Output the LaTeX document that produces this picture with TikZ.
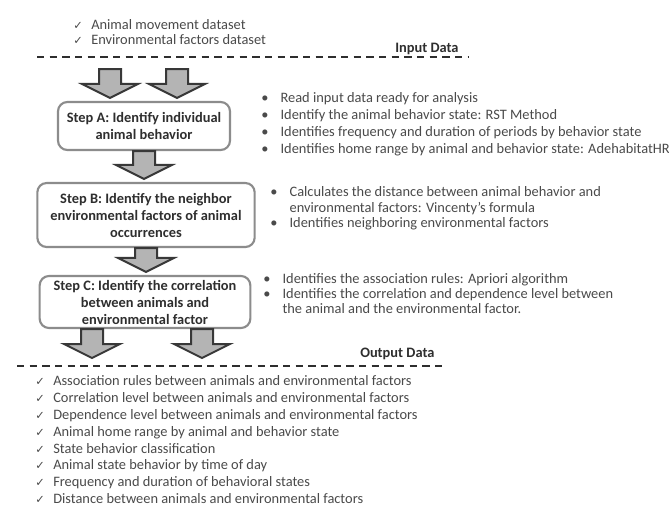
\documentclass[tikz,border=0pt]{standalone}
\usepackage{fontspec}
\setmainfont{Carlito}
\newfontfamily\symfont{DejaVu Sans}
\usepackage{tikz}
\usetikzlibrary{calc, positioning, backgrounds}

\definecolor{txtgray}{HTML}{4A4A4A}
\definecolor{headgray}{HTML}{2E2E2E}
\definecolor{boxgray}{HTML}{8C8C8C}
\definecolor{arrfill}{HTML}{B4B4B4}
\definecolor{arrline}{HTML}{383838}

\newcommand{\chk}{\makebox[13.5pt][l]{\symfont\fontsize{8.5}{9}\selectfont ✓}}
\newcommand{\bul}{\makebox[14.5pt][l]{•}}
% fat grey arrow pointing down, from #1 to the level of #2
\newcommand{\fatdown}[2]{%
  \path (#1) coordinate (fdtop);
  \path (fdtop |- #2) coordinate (fdtip);
  \draw[fatarr] ($(fdtop)+(-11,0)$) -- ($(fdtop)+(11,0)$) -- ($(fdtip)+(11,-17)$)
    -- ($(fdtip)+(28,-17)$) -- ($(fdtip)+(0,-3)$) -- ($(fdtip)+(-28,-17)$)
    -- ($(fdtip)+(-11,-17)$) -- cycle;}

\begin{document}
\begin{tikzpicture}[x=0.75pt,y=-0.75pt,
    font=\fontsize{10.8}{12.75}\selectfont, text=txtgray,
    stepbox/.style={draw=boxgray, line width=1.6pt, rounded corners=7pt, align=center,
        font=\fontsize{10.8}{12.75}\selectfont\bfseries, text=headgray, inner sep=0pt},
    fatarr/.style={draw=arrline, fill=arrfill, line width=1.5pt, line join=miter},
    dashline/.style={draw=headgray, line width=1.3pt, dash pattern=on 5.5pt off 4pt},
    listnode/.style={anchor=base west, align=left, inner sep=0pt},
    title/.style={anchor=base west, inner sep=0pt, font=\fontsize{10.8}{12}\selectfont\bfseries, text=headgray}]
\useasboundingbox[fill=white] (0,0) rectangle (669,508);

% input
\node[listnode, font=\fontsize{10.8}{11.25}\selectfont] (inlist) at (73,44.5)
    {\chk Animal movement dataset\\ \chk Environmental factors dataset};
\node[title] (intitle) at (395,52) {Input Data};
\coordinate (indl) at (37,57);
\coordinate (indr) at (469,57);
\draw[dashline] (indl) -- (indr);

% steps
\node[stepbox, minimum width=129pt, minimum height=36pt] (A) at (144,126)
    {Step A: Identify individual\\ animal behavior};
\node[stepbox, minimum width=163pt, minimum height=48pt] (B) at (146,215)
    {Step B: Identify the neighbor\\ environmental factors of animal\\ occurrences};
\node[stepbox, minimum width=158pt, minimum height=39pt] (C) at (145,302)
    {Step C: Identify the correlation\\ between animals and\\ environmental factor};

\coordinate (in1) at (110,69);
\coordinate (in2) at (177,69);
\fatdown{in1}{A.north}
\fatdown{in2}{A.north}
\fatdown{A.south}{B.north}
\fatdown{B.south}{C.north}

% notes
\node[listnode] (la) at (261,153.5)
    {\bul Read input data ready for analysis\\
     \bul Identify the animal behavior state: RST Method\\
     \bul Identifies frequency and duration of periods by behavior state\\
     \bul Identifies home range by animal and behavior state: AdehabitatHR};
\node[listnode, font=\fontsize{10.8}{11.6}\selectfont] (lb) at (270,227.5)
    {\bul Calculates the distance between animal behavior and\\
     \hspace*{14.5pt}environmental factors: Vincenty's formula\\
     \bul Identifies neighboring environmental factors};
\node[listnode, font=\fontsize{10.8}{11.3}\selectfont] (lc) at (263,313.5)
    {\bul Identifies the association rules: Apriori algorithm\\
     \bul Identifies the correlation and dependence level between\\
     \hspace*{14.5pt}the animal and the environmental factor.};

% output
\coordinate (out1) at (92,361);
\coordinate (out2) at (202,361);
\fatdown{out1 |- C.south}{out1}
\fatdown{out2 |- C.south}{out2}

\node[title] (outtitle) at (360,357) {Output Data};
\coordinate (outdl) at (17,366);
\coordinate (outdr) at (444,366);
\draw[dashline] (outdl) -- (outdr);

\node[listnode, font=\fontsize{10.8}{12.6}\selectfont] (outlist) at (35,503.5)
    {\chk Association rules between animals and environmental factors\\
     \chk Correlation level between animals and environmental factors\\
     \chk Dependence level between animals and environmental factors\\
     \chk Animal home range by animal and behavior state\\
     \chk State behavior classification\\
     \chk Animal state behavior by time of day\\
     \chk Frequency and duration of behavioral states\\
     \chk Distance between animals and environmental factors};
\end{tikzpicture}
\end{document}
